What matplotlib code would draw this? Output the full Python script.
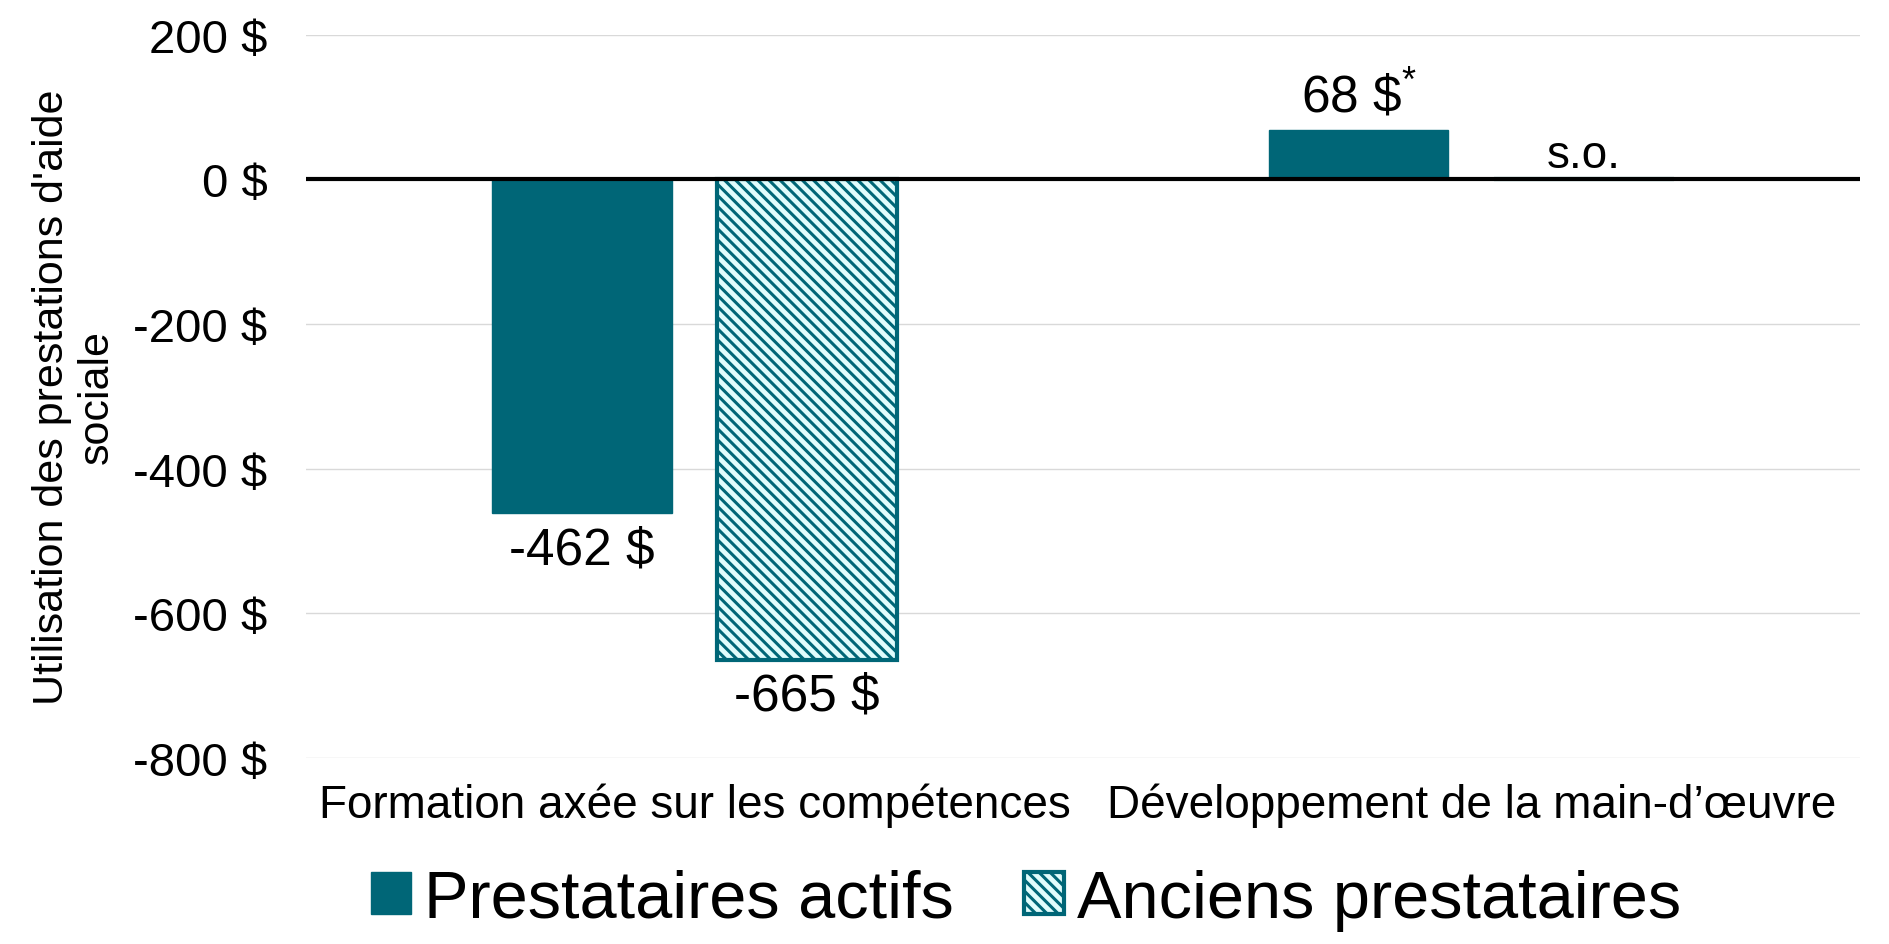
import matplotlib
matplotlib.use("Agg")
import matplotlib.pyplot as plt
from matplotlib.patches import Patch
import numpy as np

plt.rcParams['font.family'] = ['Liberation Sans', 'DejaVu Sans']
plt.rcParams['mathtext.fontset'] = 'custom'
plt.rcParams['mathtext.rm'] = 'Liberation Sans'
plt.rcParams['mathtext.it'] = 'Liberation Sans'
plt.rcParams['hatch.linewidth'] = 2.2

categories = ["Formation axée sur les compétences", "Développement de la main-d’œuvre"]
series_names = ["Prestataires actifs", "Anciens prestataires"]
actifs = [-462, 68]
anciens = [-665, np.nan]
actifs_labels = ["-462 $", "68 \\$$^{*}$"]
anciens_labels = ["-665 $", "s.o."]
yticks = [200, 0, -200, -400, -600, -800]
ytick_labels = ["200 $", "0 $", "-200 $", "-400 $", "-600 $", "-800 $"]

teal = "#006677"
hatch_bg = "#e0fcfc"
hatch = "\\\\\\"

fig = plt.figure(figsize=(18.9, 9.45), dpi=100)
ax = fig.add_axes([0.162, 0.197, 0.822, 0.765])

x = np.arange(len(categories))
w = 0.231
off = 0.145

ax.bar(x - off, actifs, width=w, color=teal, edgecolor=teal, zorder=3)
vals2 = [0 if np.isnan(v) else v for v in anciens]
ax.bar(x + off, vals2, width=w, color=hatch_bg, edgecolor=teal, hatch=hatch,
       linewidth=3, zorder=3)

for xi, v, lab in zip(x - off, actifs, actifs_labels):
    if v < 0:
        ax.text(xi, v - 16, lab, ha='center', va='top', fontsize=37)
    else:
        ax.text(xi, v + 10, lab, ha='center', va='bottom', fontsize=37)
for xi, v, lab in zip(x + off, anciens, anciens_labels):
    if np.isnan(v):
        ax.text(xi, 4, lab, ha='center', va='bottom', fontsize=33)
    else:
        ax.text(xi, v - 16, lab, ha='center', va='top', fontsize=37)

ax.axhline(0, color='black', linewidth=3, zorder=4)
ax.set_ylim(-800, 200)
ax.set_xlim(-0.5, 1.5)
ax.set_yticks(yticks)
ax.set_yticklabels(ytick_labels, fontsize=34)
ax.set_xticks(x)
ax.set_xticklabels(categories, fontsize=33)
ax.tick_params(axis='both', length=0)
ax.tick_params(axis='y', pad=28)
ax.tick_params(axis='x', pad=18)
ax.grid(axis='y', color='#d9d9d9', linewidth=1, zorder=0)
for s in ax.spines.values():
    s.set_visible(False)

ax.set_ylabel("Utilisation des prestations d'aide\nsociale", fontsize=31, linespacing=1.15)
ax.yaxis.set_label_coords(-0.122, 0.5)

handles = [Patch(facecolor=teal, edgecolor=teal),
           Patch(facecolor=hatch_bg, edgecolor=teal, hatch=hatch, linewidth=3)]
fig.legend(handles, series_names, loc='center', bbox_to_anchor=(0.543, 0.047), ncol=2,
           frameon=False, fontsize=48, handlelength=0.6, handleheight=0.6,
           handletextpad=0.2, columnspacing=1.05)

fig.savefig("out.png", dpi=100)
